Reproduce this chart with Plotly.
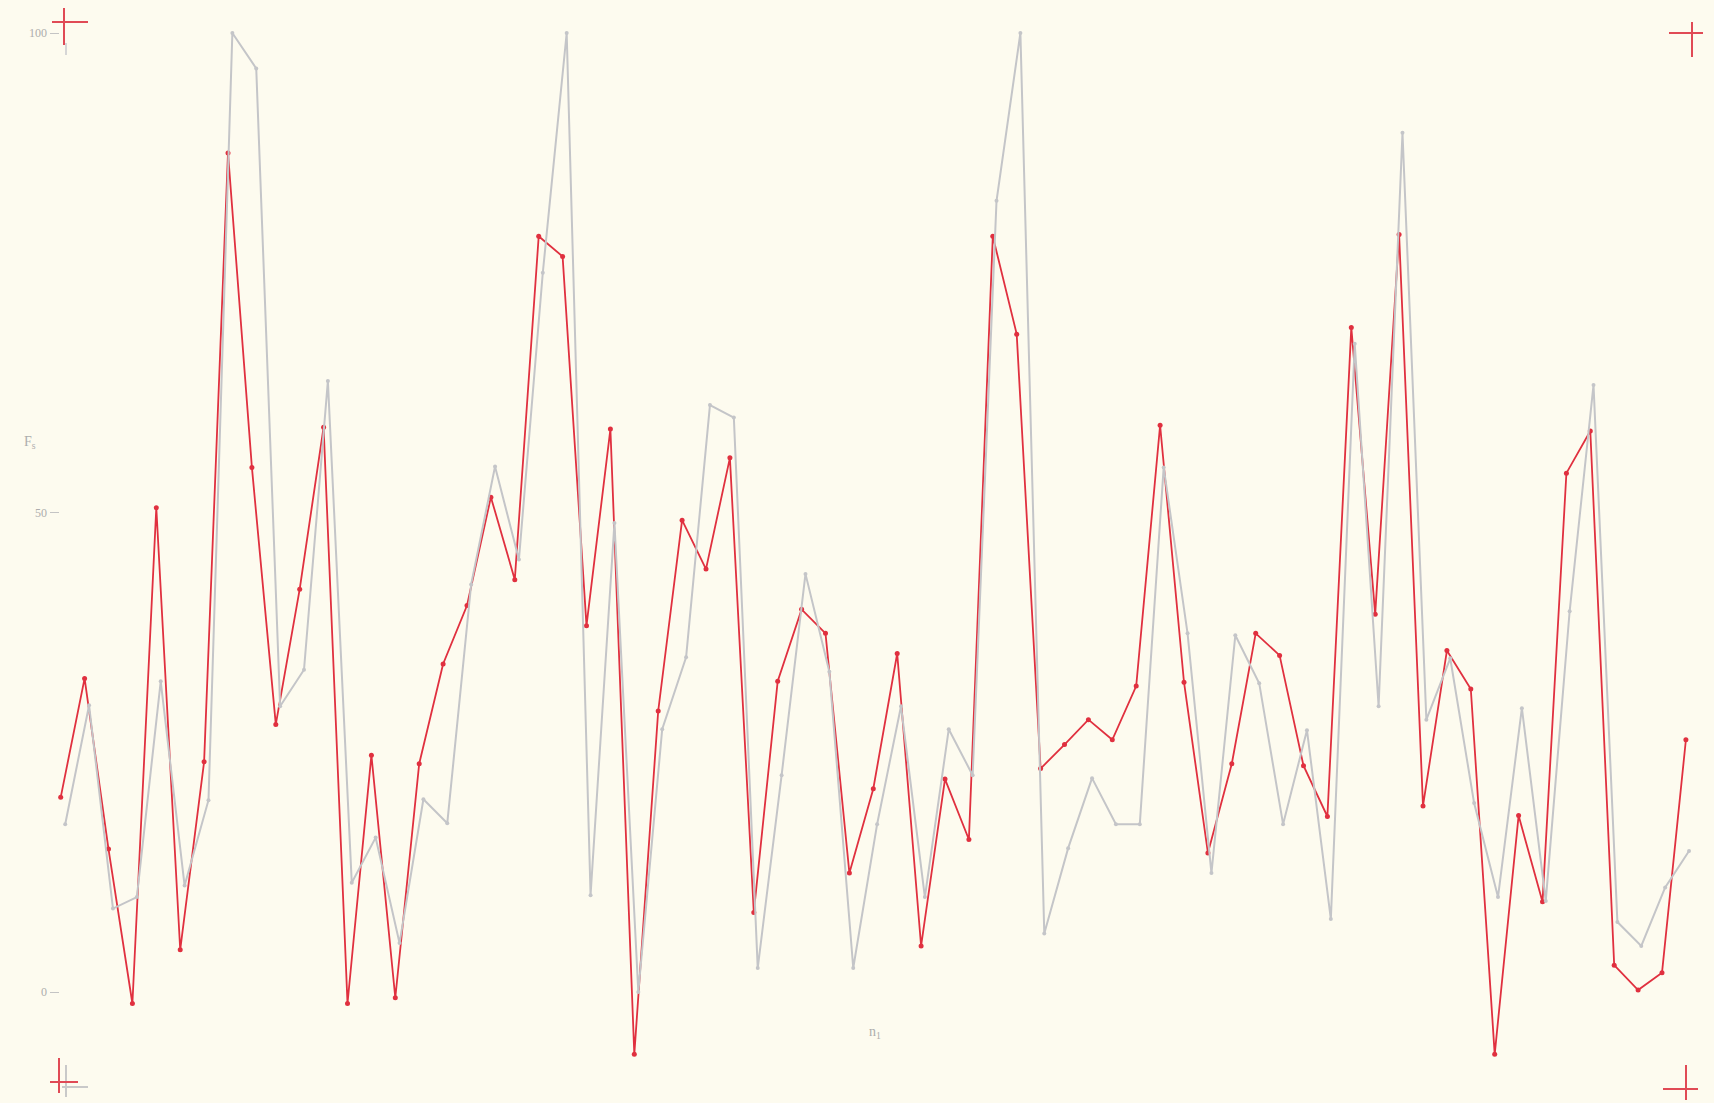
import plotly.graph_objects as go

# ---- data ----
n_index = list(range(69))

fs_red = [20.3, 32.7, 14.9, -1.2, 50.5, 4.4, 24.0, 87.5, 54.7, 27.9, 42.0, 58.9,
          -1.2, 24.7, -0.6, 23.8, 34.2, 40.3, 51.6, 43.0, 78.8, 76.7, 38.2, 58.7,
          -6.5, 29.3, 49.2, 44.1, 55.7, 8.3, 32.4, 39.9, 37.4, 12.4, 21.2,
          35.3, 4.8, 22.2, 15.9, 78.8, 68.6, 23.3, 25.8, 28.4, 26.3, 31.9, 59.1,
          32.3, 14.5, 23.8, 37.4, 35.1, 23.6, 18.3, 69.3, 39.4, 79.0, 19.4, 35.6,
          31.6, -6.5, 18.4, 9.4, 54.1, 58.5, 2.8, 0.2, 2.0, 26.3]

fs_gray = [17.5, 29.9, 8.7, 9.9, 32.4, 11.1, 20.0, 100.0, 96.3, 29.8, 33.6, 63.7,
           11.4, 16.1, 5.1, 20.1, 17.6, 42.5, 54.8, 45.1, 75.0, 100.0, 10.1, 48.9,
           0.0, 27.4, 34.9, 61.2, 59.9, 2.5, 22.6, 43.6, 33.4, 2.5, 17.5,
           29.8, 9.9, 27.4, 22.6, 82.5, 100.0, 6.1, 15.0, 22.3, 17.5, 17.5, 54.7,
           37.4, 12.4, 37.2, 32.2, 17.5, 27.3, 7.6, 67.6, 29.8, 89.6, 28.4, 34.8,
           19.7, 9.9, 29.6, 9.5, 39.7, 63.3, 7.3, 4.8, 10.9, 14.7]

y_tickvals = [0, 50, 100]
y_ticktext = ["0", "50", "100"]

# ---- styling ----
W, H = 1714, 1103
ML = 50
BG = "#fdfbef"
RED = "#e0303f"
GRAY = "#c4c5c8"
TXT = "#adadad"


def px(x):
    return (x - ML) / (W - ML)


def py(y):
    return 1 - y / H


fig = go.Figure()

fig.add_trace(go.Scatter(
    x=n_index, y=fs_gray, xaxis="x2", yaxis="y",
    mode="lines+markers",
    line=dict(color=GRAY, width=2),
    marker=dict(color=GRAY, size=4),
    hoverinfo="skip", showlegend=False,
))
fig.add_trace(go.Scatter(
    x=n_index, y=fs_red, xaxis="x", yaxis="y",
    mode="lines+markers",
    line=dict(color=RED, width=1.8),
    marker=dict(color=RED, size=5),
    hoverinfo="skip", showlegend=False,
))

shapes = []


def cross(cx, cy, x0, x1, y0, y1, color, w=2):
    shapes.append(dict(type="line", xref="paper", yref="paper",
                       x0=px(cx), x1=px(cx), y0=py(y0), y1=py(y1),
                       line=dict(color=color, width=w)))
    shapes.append(dict(type="line", xref="paper", yref="paper",
                       x0=px(x0), x1=px(x1), y0=py(cy), y1=py(cy),
                       line=dict(color=color, width=w)))


# registration marks
cross(66, 1087, 62, 88, 1065, 1097, "#c9c9c9")
shapes.append(dict(type="line", xref="paper", yref="paper",
                   x0=px(66), x1=px(66), y0=py(43), y1=py(55),
                   line=dict(color="#d6d6d6", width=2)))
cross(64, 22, 52, 88, 8, 45, "#e04a55")
cross(1692, 33, 1669, 1703, 22, 57, "#e04a55")
cross(59, 1082, 50, 78, 1058, 1093, "#e04a55")
cross(1686, 1089, 1663, 1698, 1065, 1100, "#e04a55")

annotations = [
    dict(text="F<sub>s</sub>", xref="paper", yref="paper", x=px(22), y=py(442),
         showarrow=False, font=dict(family="Liberation Serif", size=14, color=TXT)),
    dict(text="n<sub>1</sub>", xref="paper", yref="paper", x=px(875), y=py(1043),
         showarrow=False, font=dict(family="Liberation Serif", size=14, color=TXT)),
]

fig.update_layout(
    width=W, height=H,
    margin=dict(l=ML, r=0, t=0, b=0),
    paper_bgcolor=BG, plot_bgcolor=BG,
    showlegend=False,
    xaxis=dict(range=[(ML - 60.7) / 23.9, (W - 60.7) / 23.9], visible=False,
               fixedrange=True),
    xaxis2=dict(range=[(ML - 65.2) / 23.88, (W - 65.2) / 23.88], visible=False,
                overlaying="x", anchor="y", fixedrange=True),
    yaxis=dict(range=[(992 - H) / 9.59, 992 / 9.59],
               showgrid=False, zeroline=False, showline=False,
               tickmode="array", tickvals=y_tickvals, ticktext=y_ticktext,
               ticks="inside", ticklen=9, tickwidth=1, tickcolor="#c4c4c4",
               tickfont=dict(family="Liberation Serif", size=12, color=TXT),
               ticklabelstandoff=2, fixedrange=True),
    shapes=shapes,
    annotations=annotations,
)

fig.write_html("out.html")
